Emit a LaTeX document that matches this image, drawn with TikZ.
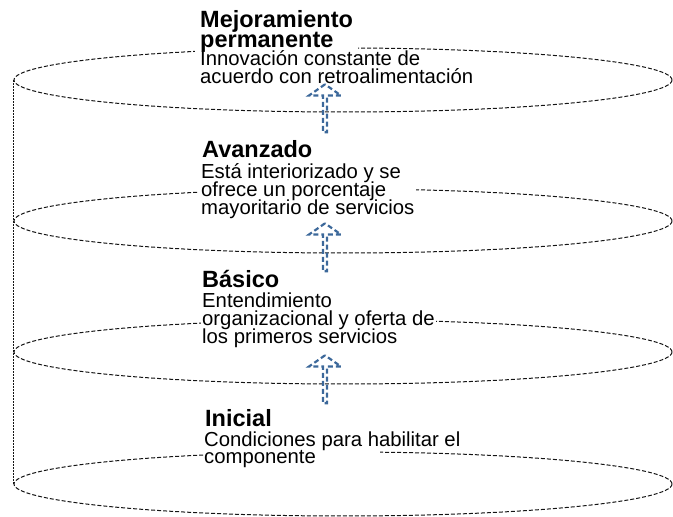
\documentclass[tikz,border=0pt]{standalone}
\usepackage{fontspec}
\setmainfont{Liberation Sans}
\usetikzlibrary{shapes.geometric,shapes.arrows}
\setlength{\lineskiplimit}{-10pt}
\definecolor{stepblue}{RGB}{60,104,154}
\definecolor{rimgray}{RGB}{20,20,20}
\tikzset{
  rim/.style={ellipse, draw=rimgray, line width=1pt, dash pattern=on 4pt off 2pt,
    minimum width=658pt, minimum height=64pt, inner sep=0pt},
  lvltitle/.style={anchor=base west, inner sep=0pt, align=left,
    font=\fontsize{23.5}{20}\selectfont\bfseries},
  lvltext/.style={anchor=base west, inner sep=0pt, align=left,
    font=\fontsize{20.3}{18}\selectfont},
  mask/.style={fill=white},
  uparrow/.style={single arrow, draw=stepblue, line width=2.2pt, dash pattern=on 5pt off 3pt,
    minimum height=48pt, minimum width=32pt, single arrow head extend=8pt,
    single arrow tip angle=110, inner sep=0pt, rotate=90},
}
\begin{document}
\begin{tikzpicture}[x=1pt,y=1pt]
    \useasboundingbox (0,0) rectangle (673,517);
    % rims of the cylinder
    \node[rim] (e1) at (343,437) {};
    \node[rim] (e2) at (343,296) {};
    \node[rim] (e3) at (343,165) {};
    \node[rim] (e4) at (343,33) {};
    \draw[rimgray, line width=0.6pt, dash pattern=on 2pt off 1pt] (e1.west) -- (e4.west);

    % levels (base = last line)
    \node[lvltitle, mask, inner xsep=5pt, inner ysep=1pt] (t1) at (195,469) {Mejoramiento\\permanente};
    \node[lvltext] (d1) at (200,433) {Innovación constante de\\acuerdo con retroalimentación};
    \node[lvltext, mask, inner xsep=2pt] (d2) at (199,302) {Está interiorizado y se\\ofrece un porcentaje\\mayoritario de servicios};
    \node[lvltitle] (t2) at (202,359) {Avanzado};
    \node[lvltext, mask, inner xsep=1pt] (d3) at (201,173) {Entendimiento\\organizacional y oferta de\\los primeros servicios};
    \node[lvltitle] (t3) at (202,229) {Básico};
    \node[lvltext, mask, text width=176pt] (d4b) at (204,53) {componente};
    \node[lvltext] (d4) at (204,70) {Condiciones para habilitar el};
    \node[lvltitle] (t4) at (205,90) {Inicial};

    \node[uparrow] (a1) at (325,408) {};
    \node[uparrow] (a2) at (325,269) {};
    \node[uparrow] (a3) at (325,137) {};
\end{tikzpicture}
\end{document}
